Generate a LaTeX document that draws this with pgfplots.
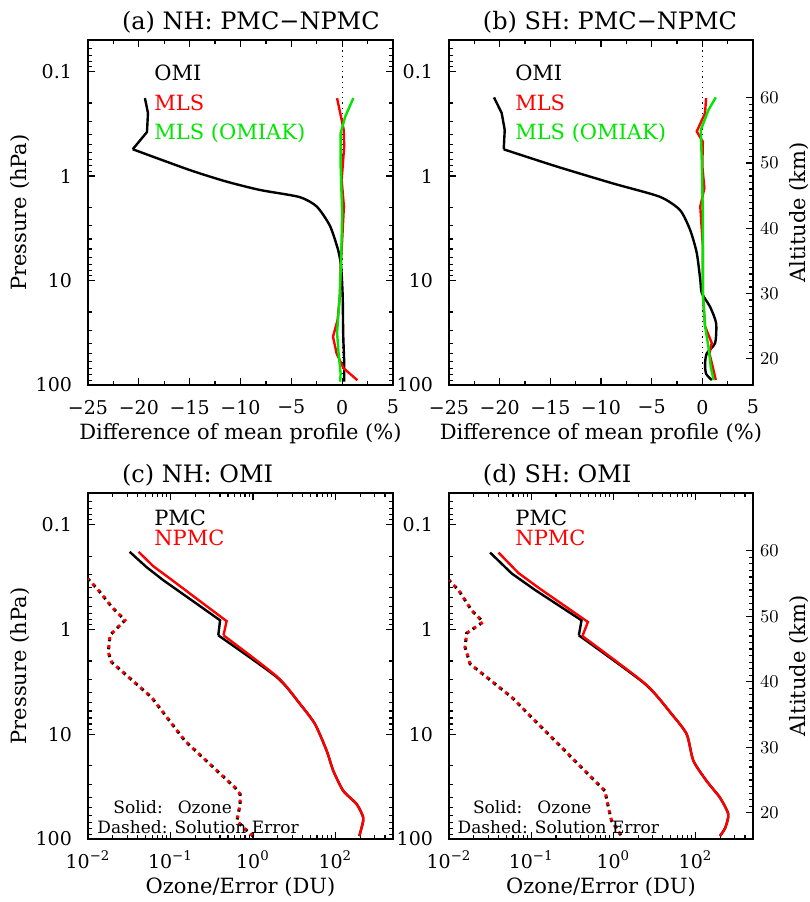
\documentclass[border=0pt]{standalone}
\usepackage{fontspec}
\setmainfont{DejaVu Serif}
\usepackage{pgfplots}
\pgfplotsset{compat=1.18}
\definecolor{mygreen}{RGB}{0,230,0}
\definecolor{myred}{RGB}{255,0,0}

\pgfplotsset{
  myBase/.style={
    scale only axis, height=172.5pt, anchor=south west,
    axis line style={line width=0.8pt},
    every tick/.style={black, line width=0.6pt},
    major tick length=3.5pt, minor tick length=2pt,
    tick label style={font=\fontsize{9.5}{11}\selectfont},
    label style={font=\fontsize{10.5}{12}\selectfont},
    every axis title shift=0pt,
    title style={font=\fontsize{12}{14}\selectfont, at={(axis description cs:0.0885,1)}, anchor=base west, yshift=5.5pt},
    ylabel style={at={(axis description cs:0,0.5)}, anchor=base, yshift=30.5pt},
    xlabel style={at={(axis description cs:0.5,0)}, anchor=base, yshift=-27pt},
    yticklabel style={xshift=-4.5pt},
  },
  myPres/.style={
    ymin=0.05, ymax=100,
    ytick={0.1,1,10,100}, yticklabels={0.1,1,10,100},
    minor ytick={0.06,0.07,0.08,0.09,0.2,0.3,0.4,0.5,0.6,0.7,0.8,0.9,2,3,4,5,6,7,8,9,20,30,40,50,60,70,80,90},
    ylabel={Pressure (hPa)},
  },
  myDiffx/.style={
    xmin=-25, xmax=5, xtick={-25,-20,-15,-10,-5,0,5},
    xticklabels={−25,−20,−15,−10,−5,0,5}, minor x tick num=1,
    xticklabel style={yshift=-4pt},
    xlabel={Difference of mean profile (\%)},
  },
  myOzx/.style={
    xmin=0.01, xmax=50, xtick={0.01,0.1,1,10},
    xticklabels={10\textsuperscript{−2},10\textsuperscript{−1},10\textsuperscript{0},10\textsuperscript{2}},
    minor xtick={0.02,0.03,0.04,0.05,0.06,0.07,0.08,0.09,0.2,0.3,0.4,0.5,0.6,0.7,0.8,0.9,2,3,4,5,6,7,8,9,20,30,40,50},
    xticklabel style={yshift=-2.3pt},
    xlabel={Ozone/Error (DU)},
  },
  myAlt/.style={
    scale only axis, height=172.5pt, width=152pt, anchor=south west,
    axis x line=none, axis y line*=right,
    axis line style={line width=0.8pt},
    every tick/.style={black, line width=0.6pt},
    major tick length=3.5pt, minor tick length=2pt,
    xmin=0, xmax=1, ymin=16, ymax=68.82,
    ytick={20,30,40,50,60}, minor y tick num=9,
    tick label style={font=\fontsize{9.5}{11}\selectfont},
    label style={font=\fontsize{10.5}{12}\selectfont},
    ylabel={Altitude (km)},
    ylabel style={at={(axis description cs:1,0.5)}, anchor=base, yshift=-26pt},
  },
}
\tikzset{
  myTxt/.style={font=\fontsize{10.5}{12}\selectfont, anchor=west, inner sep=0pt},
  mySmall/.style={font=\fontsize{8.5}{10}\selectfont, anchor=west, inner sep=0pt},
  myOmi/.style={black, line width=1.2pt},
  myMls/.style={myred, line width=1.2pt},
  myMlsak/.style={mygreen, line width=1.2pt},
  myErrb/.style={black, line width=1.5pt, dash pattern=on 1.4pt off 2.6pt},
  myErrr/.style={myred, line width=1.5pt, dash pattern=on 1.4pt off 2.6pt, dash phase=0.7pt},
}

\begin{document}
\begin{tikzpicture}
\path[use as bounding box] (0,0) rectangle (405pt,451pt);

% ---------------- (a) ----------------
\begin{axis}[ymode=log, y dir=reverse, myBase, width=152.5pt, myPres, myDiffx, at={(44pt,258.5pt)},
  title={(a) NH: PMC−NPMC}]
\addplot[black, dotted, line width=0.6pt] coordinates {(0,0.05) (0,100)};
\addplot[myOmi] coordinates {
(-19.4,0.18) (-19.1,0.25) (-19.2,0.38) (-20.6,0.555)};
\addplot[myOmi, smooth, tension=0.4] coordinates {
(-20.6,0.555) (-15.0,0.877) (-11.4,1.13) (-8.1,1.36) (-4.2,1.59) (-2.5,1.96) (-1.2,3.0)
(-0.4,5.1) (-0.1,7.4) (0.05,14) (0.1,32) (0.2,62) (0.2,93)};
\addplot[myMls] coordinates {
(-0.5,0.18) (0.15,0.36) (0.2,0.52) (-0.05,1.09) (0.17,1.96) (0.0,4.1)
(-0.15,7.4) (-0.2,13.2) (-0.45,23.9) (-0.9,34.5) (-0.55,49.8) (0.13,69) (1.5,90)};
\addplot[myMlsak] coordinates {
(1.1,0.18) (0.3,0.27) (-0.15,0.39) (-0.15,0.81) (0.0,2.28) (-0.1,6.4)
(-0.25,14.3) (-0.5,31.8) (-0.35,49.8) (-0.15,78) (-0.2,93)};
\node[myTxt, text=black] at (axis cs:-18.5,0.1035) {OMI};
\node[myTxt, text=myred] at (axis cs:-18.5,0.2) {MLS};
\node[myTxt, text=mygreen] at (axis cs:-18.5,0.388) {MLS (OMIAK)};
\end{axis}

% ---------------- (b) ----------------
\begin{axis}[ymode=log, y dir=reverse, myBase, width=152pt, myPres, myDiffx, at={(224.5pt,258.5pt)},
  ytick pos=left, ylabel={}, title={(b) SH: PMC−NPMC}]
\addplot[black, dotted, line width=0.6pt] coordinates {(0,0.05) (0,100)};
\addplot[myOmi] coordinates {
(-20.56,0.177) (-19.8,0.25) (-19.5,0.363) (-19.6,0.556)};
\addplot[myOmi, smooth, tension=0.4] coordinates {
(-19.6,0.556) (-14.4,0.81) (-8.8,1.18) (-4.2,1.58) (-2.2,2.12) (-1.2,3.29) (-0.55,5.45) (-0.2,9.9) (-0.05,13.2)
(0.77,17.9) (1.36,25.6) (1.26,39.7) (0.44,49.8) (0.27,62.3) (0.37,78) (0.93,89.6)};
\addplot[myMls] coordinates {
(0.37,0.18) (0.27,0.25) (-0.55,0.375) (0.05,0.47) (0.0,0.8) (0.2,1.31)
(-0.2,1.96) (0.05,4.7) (0.05,13.2) (0.27,27.5) (0.93,39.7) (0.7,49.8) (1.1,72) (1.33,89.6)};
\addplot[myMlsak] coordinates {
(1.33,0.177) (0.6,0.234) (-0.15,0.363) (-0.05,0.76) (0.05,2.28) (0.05,13.2)
(0.27,27.5) (0.6,43) (0.83,67) (1.1,89.6)};
\node[myTxt, text=black] at (axis cs:-18.5,0.1035) {OMI};
\node[myTxt, text=myred] at (axis cs:-18.5,0.2) {MLS};
\node[myTxt, text=mygreen] at (axis cs:-18.5,0.388) {MLS (OMIAK)};
\end{axis}
\begin{axis}[myAlt, at={(224.5pt,258.5pt)}]
\addplot[draw=none] coordinates {(0.5,30)};
\end{axis}

% ---------------- (c) ----------------
\begin{axis}[xmode=log, ymode=log, y dir=reverse, myBase, width=152.5pt, height=173pt, myPres, myOzx, at={(44pt,31.5pt)},
  title={(c) NH: OMI}]
\addplot[myErrb] coordinates {
(0.01,0.33) (0.0133,0.42) (0.0194,0.61) (0.0281,0.82) (0.0185,1.14) (0.0176,1.65)
(0.0194,2.06) (0.059,4.45) (0.15,11.6) (0.607,32.3) (0.70,37.4) (0.70,46.6)
(0.64,67) (0.80,80) (1.06,97)};
\addplot[myErrr] coordinates {
(0.01,0.33) (0.0133,0.42) (0.0194,0.61) (0.0281,0.82) (0.0185,1.14) (0.0176,1.65)
(0.0194,2.06) (0.059,4.45) (0.15,11.6) (0.607,32.3) (0.70,37.4) (0.70,46.6)
(0.64,67) (0.80,80) (1.06,97)};
\addplot[myOmi] coordinates {
(0.032,0.182) (0.051,0.254) (0.082,0.34) (0.207,0.568) (0.40,0.82) (0.38,1.14)};
\addplot[myOmi, smooth, tension=0.4] coordinates {
(0.38,1.14) (1.95,2.86) (3.72,5.14) (5.66,8.0) (7.85,14.4) (9.45,22.4)
(12.5,34.8) (18.2,46.6) (21.8,62.7) (20.8,78) (19.5,93.7)};
\addplot[myMls] coordinates {
(0.041,0.182) (0.062,0.25) (0.099,0.328) (0.25,0.568) (0.48,0.834) (0.44,1.14)};
\addplot[myMls, smooth, tension=0.4] coordinates {
(0.44,1.14) (2.0,2.86) (3.72,5.14) (5.66,8.0) (7.85,14.4) (9.45,22.4)
(12.5,34.8) (18.2,46.6) (21.8,62.7) (20.8,78) (19.5,93.7)};
\node[myTxt, text=black] at (axis cs:0.063,0.087) {PMC};
\node[myTxt, text=myred] at (axis cs:0.063,0.134) {NPMC};
\node[mySmall] at (axis cs:0.0201,49.5) {Solid:\hspace{7.5pt}Ozone};
\node[mySmall] at (axis cs:0.01285,77) {Dashed: Solution Error};
\end{axis}

% ---------------- (d) ----------------
\begin{axis}[xmode=log, ymode=log, y dir=reverse, myBase, width=152pt, height=173pt, myPres, myOzx, at={(224.5pt,31.5pt)},
  ytick pos=left, ylabel={}, title={(d) SH: OMI}]
\addplot[myErrb] coordinates {
(0.01,0.34) (0.013,0.42) (0.0189,0.66) (0.026,0.85) (0.0164,1.09) (0.0157,1.48)
(0.018,2.13) (0.058,4.45) (0.177,10.7) (0.45,22.4) (0.79,34.8) (0.87,50)
(0.95,67) (1.26,94)};
\addplot[myErrr] coordinates {
(0.01,0.34) (0.013,0.42) (0.0189,0.66) (0.026,0.85) (0.0164,1.09) (0.0157,1.48)
(0.018,2.13) (0.058,4.45) (0.177,10.7) (0.45,22.4) (0.79,34.8) (0.87,50)
(0.95,67) (1.26,94)};
\addplot[myOmi] coordinates {
(0.0316,0.185) (0.058,0.293) (0.111,0.42) (0.41,0.82) (0.38,1.14)};
\addplot[myOmi, smooth, tension=0.4] coordinates {
(0.38,1.14) (2.42,3.31) (5.1,6.41) (7.8,10) (9.4,17.9) (13.6,27.9) (19.8,40.3) (25,58) (23,78) (19.8,93.7)};
\addplot[myMls] coordinates {
(0.040,0.185) (0.070,0.29) (0.128,0.41) (0.49,0.85) (0.42,1.16)};
\addplot[myMls, smooth, tension=0.4] coordinates {
(0.42,1.16) (2.45,3.31) (5.1,6.41) (7.8,10) (9.4,17.9) (13.6,27.9) (19.8,40.3) (25,58) (23,78) (19.8,93.7)};
\node[myTxt, text=black] at (axis cs:0.0636,0.087) {PMC};
\node[myTxt, text=myred] at (axis cs:0.0636,0.134) {NPMC};
\node[mySmall] at (axis cs:0.0194,49.5) {Solid:\hspace{7.5pt}Ozone};
\node[mySmall] at (axis cs:0.0126,77) {Dashed: Solution Error};
\end{axis}
\begin{axis}[myAlt, height=173pt, at={(224.5pt,31.5pt)}]
\addplot[draw=none] coordinates {(0.5,30)};
\end{axis}

\end{tikzpicture}
\end{document}
